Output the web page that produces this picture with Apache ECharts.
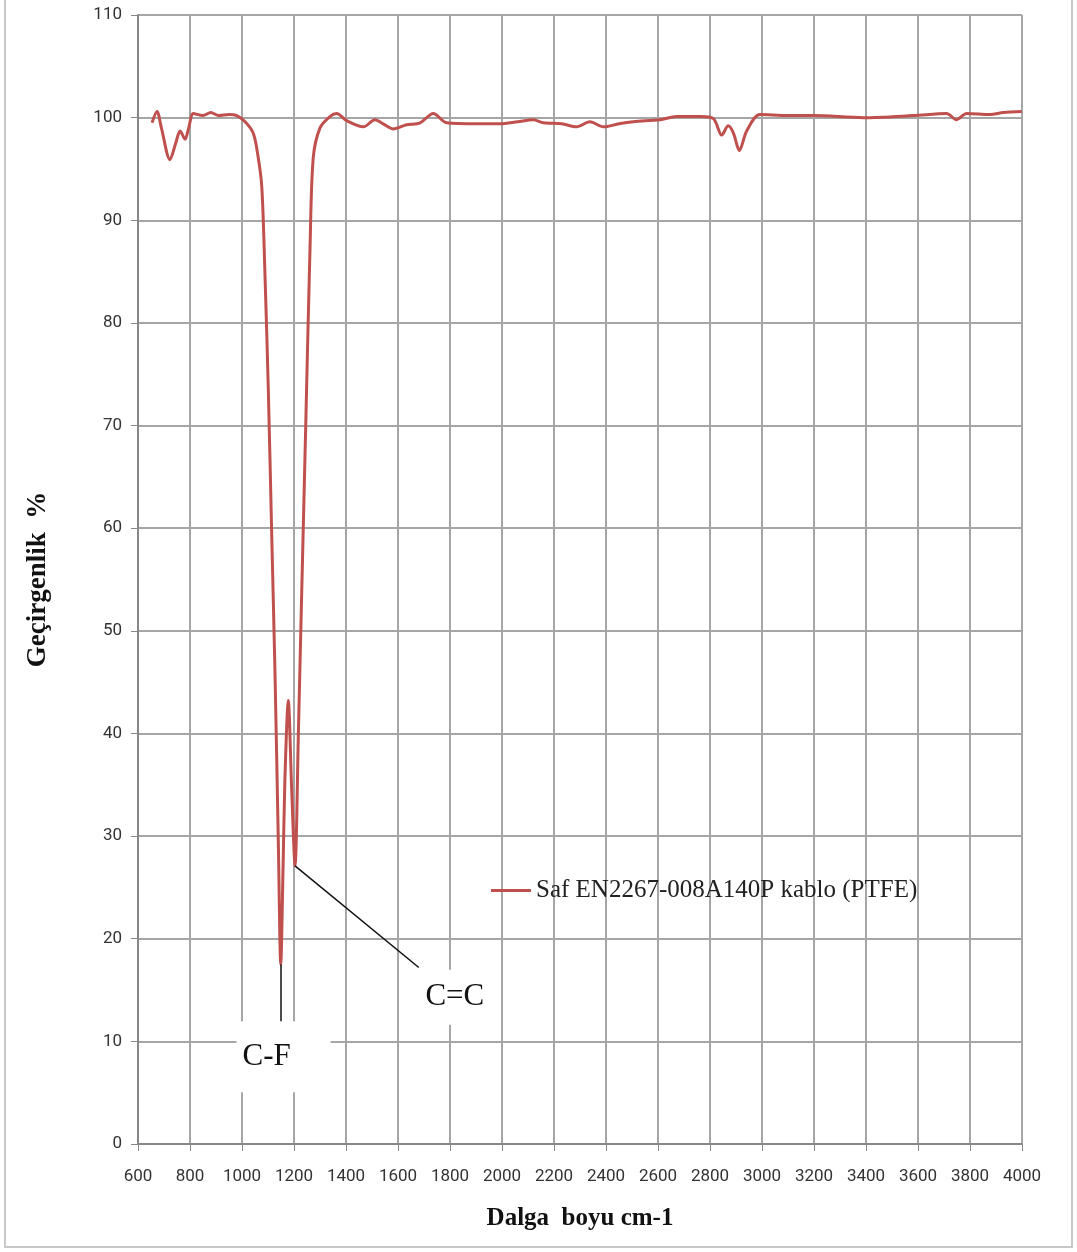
<!DOCTYPE html>
<html>
<head>
<meta charset="utf-8">
<script src="https://cdn.jsdelivr.net/npm/echarts@6/dist/echarts.min.js"></script>
<style>
  html, body { margin: 0; padding: 0; background: #fff; }
  #chart-container { width: 1077px; height: 1252px; }
</style>
</head>
<body>
<div id="chart-container"></div>
<script>
var wavenumber = [654, 673, 690, 723, 745, 762, 781, 795, 813, 850, 880, 910, 950, 980,
  1012, 1043, 1060, 1076, 1088, 1101, 1114, 1127, 1140, 1149, 1158, 1165, 1178, 1191,
  1204, 1217, 1230, 1246, 1262, 1274, 1300, 1338, 1364, 1403, 1467, 1511, 1543, 1582,
  1633, 1685, 1736, 1787, 1900, 1992, 2060, 2120, 2159, 2230, 2287, 2338, 2390, 2450,
  2505, 2608, 2672, 2762, 2813, 2845, 2870, 2890, 2913, 2941, 2992, 3100, 3197, 3390,
  3582, 3710, 3748, 3787, 3877, 3928, 3999];
var transmittance = [99.5, 100.6, 99.0, 95.9, 97.5, 98.7, 97.9, 99.0, 100.4, 100.2, 100.5, 100.2, 100.3, 100.2,
  99.6, 98.5, 96.5, 93.3, 85.0, 73.7, 59.7, 45.8, 29.0, 17.5, 27.0, 35.5, 43.2, 34.6,
  27.1, 40.2, 54.1, 70.9, 87.7, 96.1, 99.0, 100.1, 100.4, 99.7, 99.1, 99.8, 99.4, 98.9,
  99.3, 99.5, 100.4, 99.5, 99.4, 99.4, 99.6, 99.8, 99.5, 99.4, 99.1, 99.6, 99.1, 99.4,
  99.6, 99.8, 100.1, 100.1, 99.9, 98.3, 99.2, 98.5, 96.8, 98.7, 100.3, 100.2, 100.2, 100.0,
  100.2, 100.4, 99.8, 100.4, 100.3, 100.5, 100.6];
var seriesName = 'Saf EN2267-008A140P kablo (PTFE)';
var peakCF = [1149, 17.5];
var peakCC = [1204, 27.1];

var dom = document.getElementById('chart-container');
var myChart = echarts.init(dom, null, { renderer: 'canvas' });

var points = wavenumber.map(function (w, i) { return [w, transmittance[i]]; });

var tickFont = { color: '#333', fontSize: 17, fontFamily: 'Roboto' };
var gridColor = '#a6a6a6';

var option = {
  backgroundColor: '#fff',
  animation: false,
  graphic: [{
    type: 'rect',
    shape: { x: 5, y: -5, width: 1067, height: 1252 },
    style: { fill: 'none', stroke: '#c8c8c8', lineWidth: 2 },
    z: 100
  }],
  grid: { left: 138, right: 55, top: 15, bottom: 108 },
  legend: {
    left: 486, top: 873,
    itemWidth: 40, itemHeight: 3,
    icon: 'rect',
    textStyle: { fontFamily: 'Liberation Serif', fontSize: 25, color: '#222' },
    data: [seriesName]
  },
  xAxis: {
    type: 'value', min: 600, max: 4000, interval: 200,
    name: 'Dalga  boyu cm-1', nameLocation: 'middle', nameGap: 62,
    nameTextStyle: { fontFamily: 'Liberation Serif', fontWeight: 'bold', fontSize: 25, color: '#111' },
    axisLine: { lineStyle: { color: '#888', width: 2 } },
    axisTick: { show: true, length: 7, lineStyle: { color: '#888' } },
    axisLabel: Object.assign({ margin: 24, formatter: function (v) { return String(v); } }, tickFont),
    splitLine: { show: true, lineStyle: { color: gridColor, width: 2 } }
  },
  yAxis: {
    type: 'value', min: 0, max: 110, interval: 10,
    name: 'Geçirgenlik  %', nameLocation: 'middle', nameGap: 86,
    nameTextStyle: { fontFamily: 'Liberation Serif', fontWeight: 'bold', fontSize: 27, color: '#111' },
    axisLine: { show: true, lineStyle: { color: '#888', width: 2 } },
    axisTick: { show: true, length: 7, lineStyle: { color: '#888' } },
    axisLabel: Object.assign({ margin: 16 }, tickFont),
    splitLine: { show: true, lineStyle: { color: gridColor, width: 2 } }
  },
  series: [{
    name: seriesName,
    type: 'line',
    data: points,
    smooth: 0.3,
    showSymbol: false,
    lineStyle: { color: '#c0504d', width: 3 },
    itemStyle: { color: '#c0504d' },
    markLine: {
      silent: true, symbol: 'none',
      lineStyle: { color: '#111', width: 1.5, type: 'solid' },
      label: { show: false },
      data: [
        [{ coord: peakCF }, { coord: [peakCF[0], 11.5] }],
        [{ coord: peakCC }, { coord: [1680, 17.2] }]
      ]
    },
    markPoint: {
      silent: true, symbol: 'rect', symbolSize: 1,
      itemStyle: { color: 'rgba(0,0,0,0)' },
      label: {
        show: true, color: '#111', fontFamily: 'Liberation Serif', fontSize: 31,
        backgroundColor: '#fff'
      },
      data: [
        { coord: [1160, 8.5], value: 'C-F', label: { formatter: 'C-F', padding: [12, 40, 28, 6] } },
        { coord: [1807, 14.3], value: 'C=C', label: { formatter: 'C=C', padding: [10, 14, 14, 20] } }
      ]
    }
  }]
};

myChart.setOption(option);
window.addEventListener('resize', myChart.resize);
</script>
</body>
</html>
